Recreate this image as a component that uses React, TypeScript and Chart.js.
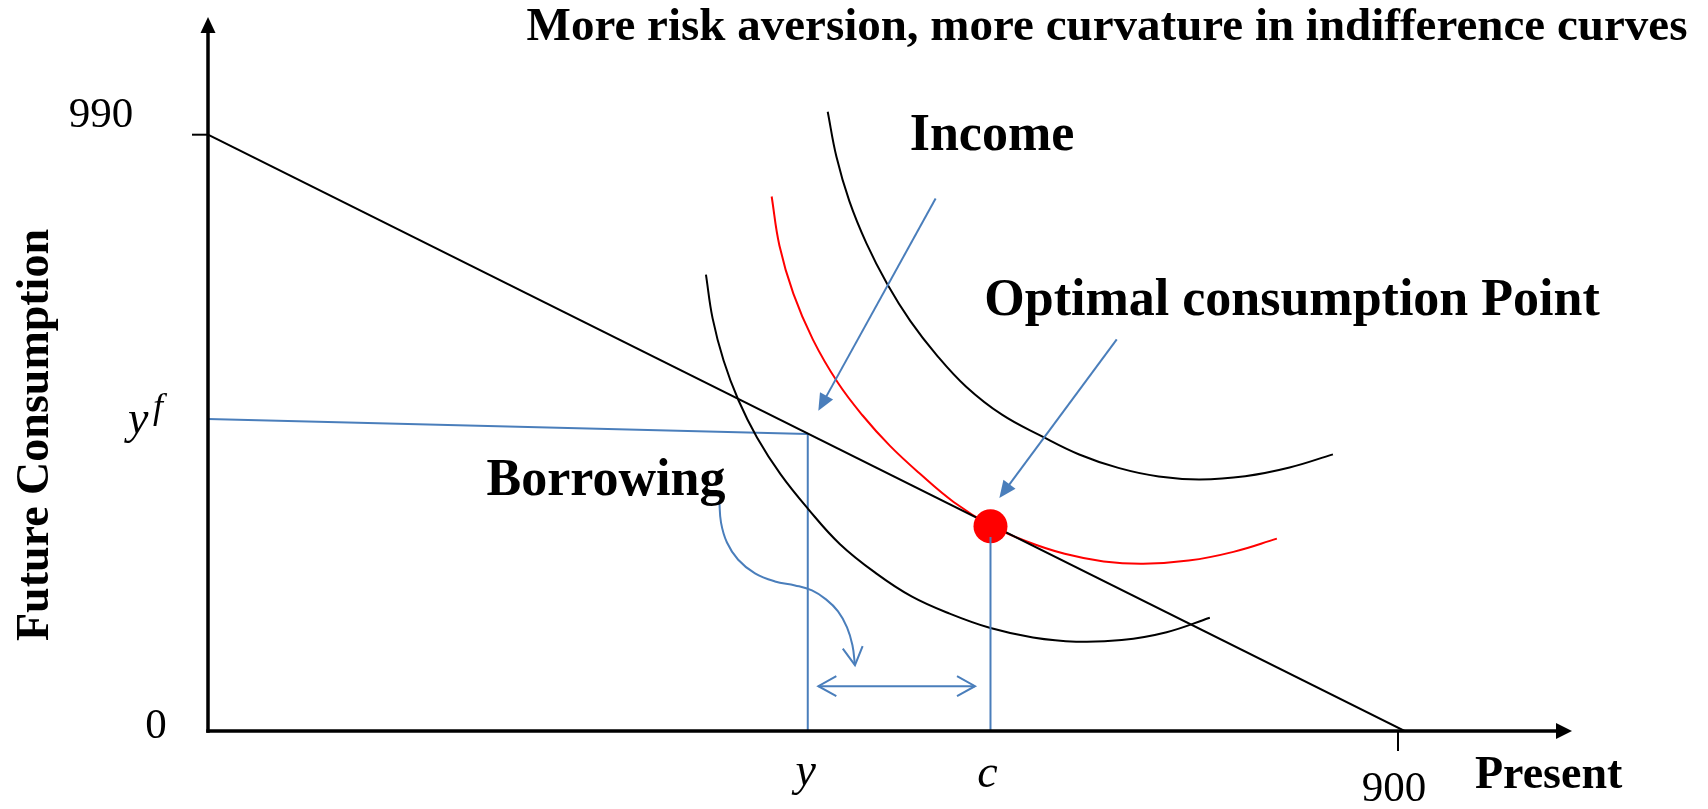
import React, { useEffect, useRef } from "react";
import { Chart, registerables } from "chart.js";

Chart.register(...registerables);

// ---- data (in axis units: Present on x, Future Consumption on y) ----
const budgetLine = [
  { x: 0, y: 990 },
  { x: 905, y: 0 },
];
const lowCurve = [
  { x: 376.6, y: 757.8 },
  { x: 381.6, y: 685.4 },
  { x: 390.0, y: 614.6 },
  { x: 401.1, y: 549.5 },
  { x: 415.2, y: 487.4 },
  { x: 433.1, y: 426.0 },
  { x: 453.8, y: 368.9 },
  { x: 477.8, y: 310.6 },
  { x: 505.6, y: 261.3 },
  { x: 532.1, y: 223.5 },
  { x: 560.9, y: 194.9 },
  { x: 591.8, y: 170.9 },
  { x: 623.9, y: 155.3 },
  { x: 656.6, y: 148.3 },
  { x: 691.0, y: 151.0 },
  { x: 725.0, y: 164.1 },
  { x: 757.7, y: 188.1 },
];
const optimalCurve = [
  { x: 426.3, y: 887.4 },
  { x: 432.2, y: 805.6 },
  { x: 442.7, y: 726.0 },
  { x: 457.5, y: 649.8 },
  { x: 476.4, y: 578.1 },
  { x: 495.1, y: 523.8 },
  { x: 515.8, y: 473.3 },
  { x: 538.5, y: 427.0 },
  { x: 563.9, y: 380.3 },
  { x: 591.8, y: 341.4 },
  { x: 619.3, y: 314.6 },
  { x: 647.9, y: 294.2 },
  { x: 677.4, y: 281.6 },
  { x: 707.3, y: 277.6 },
  { x: 741.6, y: 282.9 },
  { x: 775.5, y: 297.4 },
  { x: 808.4, y: 319.4 },
];
const highCurve = [
  { x: 468.7, y: 1028.1 },
  { x: 475.3, y: 953.3 },
  { x: 485.0, y: 880.1 },
  { x: 498.0, y: 809.6 },
  { x: 513.8, y: 741.7 },
  { x: 531.1, y: 681.0 },
  { x: 551.1, y: 624.2 },
  { x: 573.4, y: 571.7 },
  { x: 600.5, y: 525.2 },
  { x: 630.8, y: 489.1 },
  { x: 658.9, y: 459.1 },
  { x: 688.5, y: 436.8 },
  { x: 719.0, y: 422.5 },
  { x: 750.2, y: 417.7 },
  { x: 784.4, y: 423.0 },
  { x: 818.0, y: 437.4 },
  { x: 850.8, y: 459.3 },
];
const incomeLevel = [
  { x: 0, y: 518 },
  { x: 453.6, y: 493 },
];
const incomeDrop = [
  { x: 453.6, y: 493 },
  { x: 453.6, y: 0 },
];
const consumptionDrop = [
  { x: 591.8, y: 322 },
  { x: 591.8, y: 0 },
];
const optimalPoint = [{ x: 591.8, y: 340 }];
const borrowingPath = [
  { x: 386.7, y: 382.5 },
  { x: 388.0, y: 346.0 },
  { x: 392.5, y: 312.9 },
  { x: 400.8, y: 284.8 },
  { x: 413.7, y: 261.6 },
  { x: 428.8, y: 248.3 },
  { x: 444.0, y: 241.7 },
  { x: 456.8, y: 233.4 },
  { x: 467.4, y: 218.5 },
  { x: 476.5, y: 198.7 },
  { x: 483.3, y: 172.2 },
  { x: 487.4, y: 142.4 },
  { x: 489.3, y: 109.3 },
];
const incomeArrow = [
  { x: 550.3, y: 883.9 },
  { x: 461.6, y: 531.5 },
];
const optimalArrow = [
  { x: 687.3, y: 650.2 },
  { x: 598.5, y: 386.9 },
];
const borrowingSpan = [
  { x: 461.6, y: 74.5 },
  { x: 580.1, y: 74.5 },
];
const xTickValues = [900];
const yTickValues = [990];
const xTickLabels = ["900"];
const yTickLabels = ["990"];
const originLabel = "0";
const incomeX = 453.6;
const consumptionX = 591.8;
const futureIncomeY = 518;

const TITLE = "More risk aversion, more curvature in indifference curves";
const X_TITLE = "Present";
const Y_TITLE = "Future Consumption";

const BLUE = "#4A7EBB";
const SERIF = '"Liberation Serif", "Times New Roman", serif';

function filledHead(ctx: CanvasRenderingContext2D, fx: number, fy: number, tx: number, ty: number, len: number, half: number) {
  const a = Math.atan2(ty - fy, tx - fx);
  const c = Math.cos(a), s = Math.sin(a);
  ctx.beginPath();
  ctx.moveTo(tx, ty);
  ctx.lineTo(tx - len * c + half * s, ty - len * s - half * c);
  ctx.lineTo(tx - len * c - half * s, ty - len * s + half * c);
  ctx.closePath();
  ctx.fill();
}

function openHead(ctx: CanvasRenderingContext2D, fx: number, fy: number, tx: number, ty: number, len: number, half: number) {
  const a = Math.atan2(ty - fy, tx - fx);
  const c = Math.cos(a), s = Math.sin(a);
  ctx.beginPath();
  ctx.moveTo(tx - len * c + half * s, ty - len * s - half * c);
  ctx.lineTo(tx, ty);
  ctx.lineTo(tx - len * c - half * s, ty - len * s + half * c);
  ctx.stroke();
}

const diagramPlugin = {
  id: "diagram",
  afterDatasetsDraw(chart: any) {
    const ctx: CanvasRenderingContext2D = chart.ctx;
    const xs = chart.scales.x;
    const ys = chart.scales.y;
    const px = (v: number) => xs.getPixelForValue(v);
    const py = (v: number) => ys.getPixelForValue(v);
    const area = chart.chartArea;
    const x0 = px(0);
    const y0 = py(0);

    ctx.save();
    ctx.strokeStyle = BLUE;
    ctx.fillStyle = BLUE;
    ctx.lineWidth = 2;
    for (const arr of [incomeArrow, optimalArrow]) {
      const fx = px(arr[0].x), fy = py(arr[0].y);
      const tx = px(arr[1].x), ty = py(arr[1].y);
      const a = Math.atan2(ty - fy, tx - fx);
      ctx.beginPath();
      ctx.moveTo(fx, fy);
      ctx.lineTo(tx - 12 * Math.cos(a), ty - 12 * Math.sin(a));
      ctx.stroke();
      filledHead(ctx, fx, fy, tx, ty, 17, 7.5);
    }
    {
      const n = borrowingPath.length;
      const p1 = borrowingPath[n - 2], p2 = borrowingPath[n - 1];
      openHead(ctx, px(p1.x), py(p1.y), px(p2.x), py(p2.y), 18, 10);
    }
    {
      const l = borrowingSpan[0], r = borrowingSpan[1];
      ctx.beginPath();
      ctx.moveTo(px(l.x), py(l.y));
      ctx.lineTo(px(r.x), py(r.y));
      ctx.stroke();
      openHead(ctx, px(r.x), py(r.y), px(l.x), py(l.y), 18, 10);
      openHead(ctx, px(l.x), py(l.y), px(r.x), py(r.y), 18, 10);
    }

    // axes
    ctx.strokeStyle = "#000";
    ctx.fillStyle = "#000";
    ctx.lineWidth = 3.5;
    ctx.beginPath();
    ctx.moveTo(x0, y0 + 1.75);
    ctx.lineTo(x0, area.top + 14);
    ctx.stroke();
    ctx.beginPath();
    ctx.moveTo(x0 - 1.75, y0);
    ctx.lineTo(area.right - 14, y0);
    ctx.stroke();
    filledHead(ctx, x0, y0, x0, area.top, 16, 7.5);
    filledHead(ctx, x0, y0, area.right, y0, 16, 8);

    ctx.lineWidth = 2;
    yTickValues.forEach((v) => {
      ctx.beginPath();
      ctx.moveTo(x0 - 16, py(v));
      ctx.lineTo(x0, py(v));
      ctx.stroke();
    });
    xTickValues.forEach((v) => {
      ctx.beginPath();
      ctx.moveTo(px(v), y0);
      ctx.lineTo(px(v), y0 + 20);
      ctx.stroke();
    });
    ctx.restore();
  },
  afterDraw(chart: any) {
    const ctx: CanvasRenderingContext2D = chart.ctx;
    const xs = chart.scales.x;
    const ys = chart.scales.y;
    const px = (v: number) => xs.getPixelForValue(v);
    const py = (v: number) => ys.getPixelForValue(v);
    const x0 = px(0);
    const y0 = py(0);

    ctx.save();
    ctx.fillStyle = "#000";
    ctx.textBaseline = "alphabetic";

    ctx.font = `43px ${SERIF}`;
    ctx.textAlign = "center";
    yTickValues.forEach((v, i) => ctx.fillText(yTickLabels[i], x0 - 107, py(v) - 8));
    xTickValues.forEach((v, i) => ctx.fillText(xTickLabels[i], px(v) - 4, y0 + 70));
    ctx.fillText(originLabel, x0 - 52, y0 + 7);

    ctx.font = `italic 46px ${SERIF}`;
    ctx.fillText("y", px(incomeX) - 2, y0 + 54);
    ctx.fillText("c", px(consumptionX) - 3, y0 + 56);
    ctx.textAlign = "left";
    ctx.font = `italic 46px ${SERIF}`;
    ctx.fillText("y", 128, py(futureIncomeY) + 14);
    ctx.font = `italic 36px ${SERIF}`;
    ctx.fillText("f", 153, py(futureIncomeY) - 1);

    ctx.font = `bold 46px ${SERIF}`;
    ctx.textAlign = "left";
    ctx.fillText(X_TITLE, 1475, 788);
    ctx.save();
    ctx.translate(48, 435);
    ctx.rotate(-Math.PI / 2);
    ctx.textAlign = "center";
    ctx.fillText(Y_TITLE, 0, 0);
    ctx.restore();

    ctx.textAlign = "center";
    ctx.font = `bold 47px ${SERIF}`;
    ctx.fillText(TITLE, 1107, 40);
    ctx.font = `bold 52px ${SERIF}`;
    ctx.fillText("Income", 992, 150);
    ctx.fillText("Optimal consumption Point", 1292, 315);
    ctx.fillText("Borrowing", 606, 495);
    ctx.restore();
  },
};

export default function App() {
  const ref = useRef<HTMLCanvasElement | null>(null);

  useEffect(() => {
    if (!ref.current) return;
    const line = (data: any[], color: string, order: number, extra: any = {}) => ({
      data,
      showLine: true,
      borderColor: color,
      borderWidth: 2,
      pointRadius: 0,
      pointHoverRadius: 0,
      fill: false,
      order,
      ...extra,
    });
    const smooth = { tension: 0.4, cubicInterpolationMode: "default" };
    const chart = new Chart(ref.current, {
      type: "scatter",
      data: {
        datasets: [
          line(consumptionDrop, BLUE, 0),
          {
            data: optimalPoint,
            backgroundColor: "#FF0000",
            borderColor: "#FF0000",
            borderWidth: 0,
            pointRadius: 17,
            pointHoverRadius: 17,
            order: 1,
          } as any,
          line(budgetLine, "#000", 3),
          line(optimalCurve, "#FF0000", 4, smooth),
          line(lowCurve, "#000", 5, smooth),
          line(highCurve, "#000", 5, smooth),
          line(incomeLevel, BLUE, 6),
          line(incomeDrop, BLUE, 6),
          line(borrowingPath, BLUE, 6, smooth),
        ],
      },
      options: {
        animation: false,
        responsive: false,
        devicePixelRatio: 1,
        events: [],
        layout: { padding: { left: 208, right: 136, top: 15, bottom: 78 } },
        plugins: {
          legend: { display: false },
          tooltip: { enabled: false },
        },
        scales: {
          x: { type: "linear", min: 0, max: 1031.6, display: false },
          y: { type: "linear", min: 0, max: 1185.4, display: false },
        },
      },
      plugins: [diagramPlugin],
    });
    return () => chart.destroy();
  }, []);

  return (
    <div style={{ position: "fixed", left: 0, top: 0, width: 1708, height: 809, background: "#fff" }}>
      <canvas ref={ref} width={1708} height={809} style={{ display: "block" }} />
    </div>
  );
}
